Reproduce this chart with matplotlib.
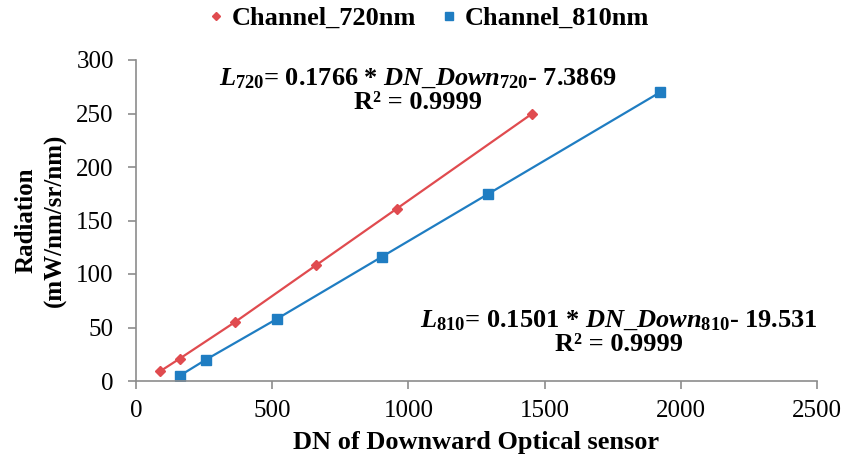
import matplotlib
matplotlib.use("Agg")
import matplotlib.pyplot as plt

plt.rcParams['font.family'] = ['Liberation Serif', 'DejaVu Serif']
plt.rcParams['mathtext.fontset'] = 'custom'
plt.rcParams['mathtext.rm'] = 'Liberation Serif:bold'
plt.rcParams['mathtext.it'] = 'Liberation Serif:bold:italic'
plt.rcParams['mathtext.bf'] = 'Liberation Serif:bold'

dn_720 = [88, 161, 363, 660, 957, 1455]
rad_720 = [9, 21, 55, 108, 161, 250]
dn_810 = [161, 257, 517, 902, 1294, 1925]
rad_810 = [5, 20, 58, 116, 175, 270]

red = '#E04B4F'
blue = '#1F7DC2'
gray = '#8C8C8C'

fig = plt.figure(figsize=(8.45, 4.62), dpi=100)
ax = fig.add_axes([136 / 845, 1 - 381 / 462, 681 / 845, 321 / 462])

ax.plot(dn_720, rad_720, color=red, lw=1.6, marker='D', ms=5, label='Channel_720nm')
ax.plot(dn_810, rad_810, color=blue, lw=1.6, marker='s', ms=6.5, label='Channel_810nm')

ax.set_xlim(0, 2500)
ax.set_ylim(0, 300)
ax.set_xticks(range(0, 2501, 500))
ax.set_yticks(range(0, 301, 50))
for s in ['top', 'right']:
    ax.spines[s].set_visible(False)
for s in ['left', 'bottom']:
    ax.spines[s].set_color(gray)
    ax.spines[s].set_linewidth(1.2)
ax.tick_params(axis='both', colors=gray, labelcolor='black', labelsize=18,
               direction='out', length=6, width=1.2)
ax.tick_params(axis='x', pad=8)
ax.tick_params(axis='y', pad=10)

ax.set_xlabel('DN of Downward Optical sensor', fontsize=19, fontweight='bold', labelpad=6)
ax.set_ylabel('Radiation\n(mW/nm/sr/nm)', fontsize=18, fontweight='bold', labelpad=7,
              linespacing=1.3)

leg = fig.legend(handles=ax.get_lines(), loc='center', bbox_to_anchor=(0.508, 1 - 18 / 462), ncol=2,
                 frameon=False, prop={'weight': 'bold', 'size': 19}, handlelength=0.5,
                 handletextpad=0.35, columnspacing=1.0, markerscale=0.8)
for h in leg.legend_handles:
    h.set_linestyle('none')

eq1 = r'$\mathit{L}_{720}$= 0.1766 * $\mathit{DN\_Down}_{720}$- 7.3869' + '\n' + 'R² = 0.9999'
eq2 = r'$\mathit{L}_{810}$= 0.1501 * $\mathit{DN\_Down}_{810}$- 19.531' + '\n' + 'R² = 0.9999'
fig.text(418 / 845, 1 - 90 / 462, eq1, ha='center', va='center', ma='center',
         fontsize=19, fontweight='bold', linespacing=1.0)
fig.text(619 / 845, 1 - 332 / 462, eq2, ha='center', va='center', ma='center',
         fontsize=19, fontweight='bold', linespacing=1.0)

fig.savefig('out.png', dpi=100)
